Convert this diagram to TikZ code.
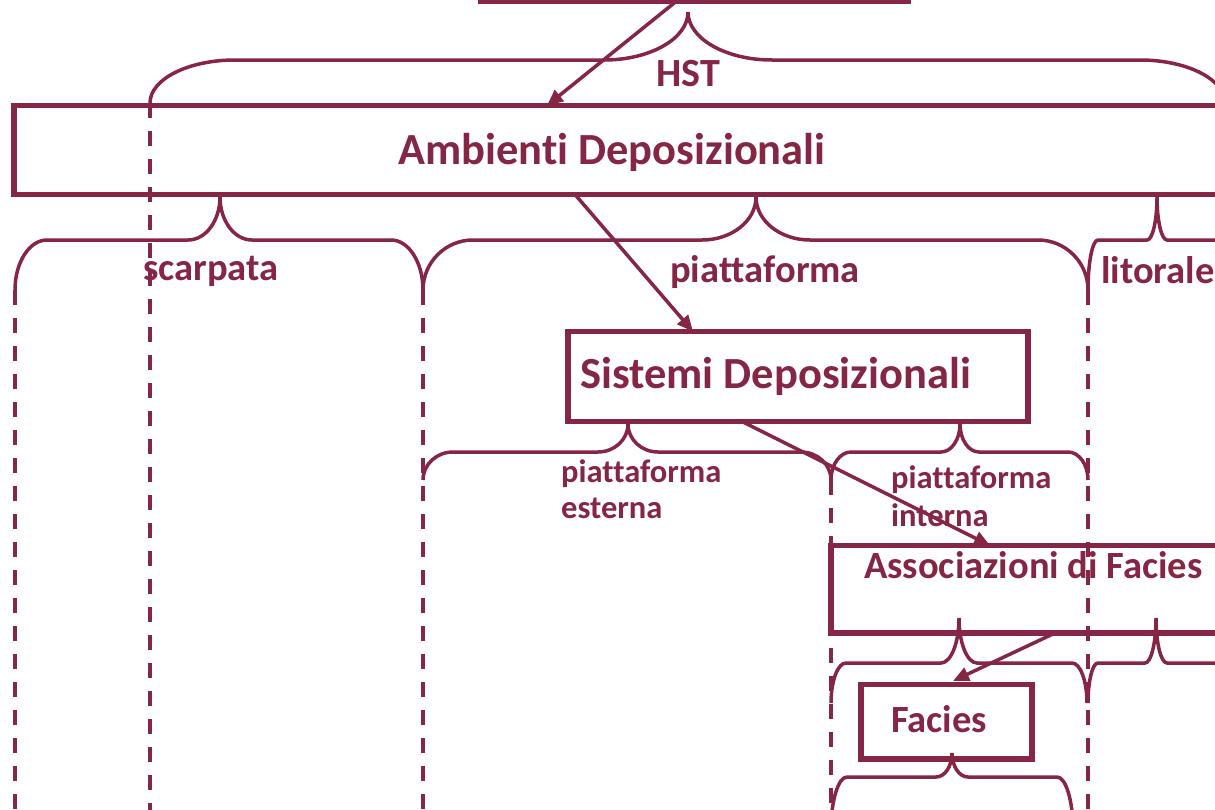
\documentclass[tikz,border=0pt]{standalone}
\usepackage{fontspec}
\setmainfont[Ligatures=NoCommon,RawFeature={-clig}]{Carlito}
\usetikzlibrary{arrows.meta}
\definecolor{mar}{RGB}{132,38,68}
\newcommand\hbr[8]{% x0, x1, xtip, ytip, yflat, yend, rc, rt
 \draw[brace] (#1,#6) .. controls (#1,{#6-0.552*(#6-#5)}) and ({#1+0.448*#7},#5) .. ({#1+#7},#5)
 -- ({#3-#8},#5) .. controls ({#3-0.448*#8},#5) and (#3,{#4+0.552*(#5-#4)}) .. (#3,#4)
 .. controls (#3,{#4+0.552*(#5-#4)}) and ({#3+0.448*#8},#5) .. ({#3+#8},#5)
 -- ({#2-#7},#5) .. controls ({#2-0.448*#7},#5) and (#2,{#6-0.552*(#6-#5)}) .. (#2,#6);}
\begin{document}
\begin{tikzpicture}[x=1pt,y=-1pt,
  box/.style={draw=mar,line width=5.5pt,minimum width=#1,inner sep=0pt,outer sep=0pt},
  brace/.style={draw=mar,line width=3.5pt},
  guide/.style={draw=mar,line width=3.5pt,dash pattern=on 15pt off 13pt},
  arr/.style={draw=mar,line width=3.5pt,-{Triangle[length=16pt,width=14pt]}},
  big/.style={text=mar,inner sep=0pt,anchor=base west,font=\bfseries\fontsize{44.5}{50}\selectfont},
  mid/.style={text=mar,inner sep=0pt,anchor=base west,font=\bfseries\fontsize{38.5}{44}\selectfont},
  sml/.style={text=mar,inner sep=0pt,anchor=base west,font=\bfseries\fontsize{32.5}{38}\selectfont}]
\useasboundingbox (0,0) rectangle (1215,809);
\clip (0,0) rectangle (1215,809);
\fill[white] (0,0) rectangle (1215,809);
% dashed guides
\draw[guide] (15,290) -- (15,830);
\draw[guide] (150,103) -- (150,830);
\draw[guide] (423,290) -- (423,830);
\draw[guide] (831,480) -- (831,830);
\draw[guide] (1088,290) -- (1088,830);
% boxes
\node[box=427pt,minimum height=61pt] (top) at (694.5,-29) {};
\node[box=1216pt,minimum height=89pt] (amb) at (622,150) {};
\node[box=460pt,minimum height=90pt] (sis) at (798,376.5) {};
\node[box=409pt,minimum height=87.5pt] (ass) at (1035.5,589.25) {};
\node[box=171pt,minimum height=74.5pt] (fac) at (946.5,721.75) {};
% braces
\hbr{150}{1225}{688}{12}{60}{103}{85}{84}
\hbr{15}{423}{220}{197}{240}{290}{32}{32}
\hbr{423}{1088}{756}{197}{240}{290}{50}{54}
\hbr{1088}{1226}{1157}{197}{240}{290}{10}{10}
\hbr{423}{831}{628}{424}{452}{480}{30}{30}
\hbr{831}{1088}{960}{424}{452}{480}{20}{19}
\hbr{831}{1087}{959}{618}{663}{703}{15}{18}
\hbr{1088}{1224}{1156}{618}{663}{703}{10}{11}
\hbr{831}{1073}{952}{753}{777}{830}{16}{16}
% labels
\node[mid,anchor=base,font=\bfseries\fontsize{40}{44}\selectfont] (lhst) at (688,86) {HST};
\node[big] (lamb) at (398,164) {Ambienti Deposizionali};
\node[mid] (lsca) at (143,280) {scarpata};
\node[mid] (lpia) at (670,282) {piattaforma};
\node[mid] (llit) at (1101,283) {litorale};
\node[big] (lsis) at (580,388) {Sistemi Deposizionali};
\node[sml] (lpe1) at (561,482) {piattaforma};
\node[sml] (lpe2) at (561,518) {esterna};
\node[sml] (lpi1) at (891,488) {piattaforma};
\node[sml] (lpi2) at (891,526) {interna};
\node[mid] (lass) at (864,578) {Associazioni di Facies};
\node[mid] (lfac) at (891,732) {Facies};
% arrows
\draw[arr] (top.south -| 676,0) -- (amb.north -| 547,0);
\draw[arr] (amb.south -| 575,0) -- (sis.north -| 693,0);
\draw[arr] (sis.south -| 742,0) -- (ass.north -| 990,0);
\draw[arr] (ass.south -| 1055,0) -- (953,681);
\end{tikzpicture}
\end{document}
